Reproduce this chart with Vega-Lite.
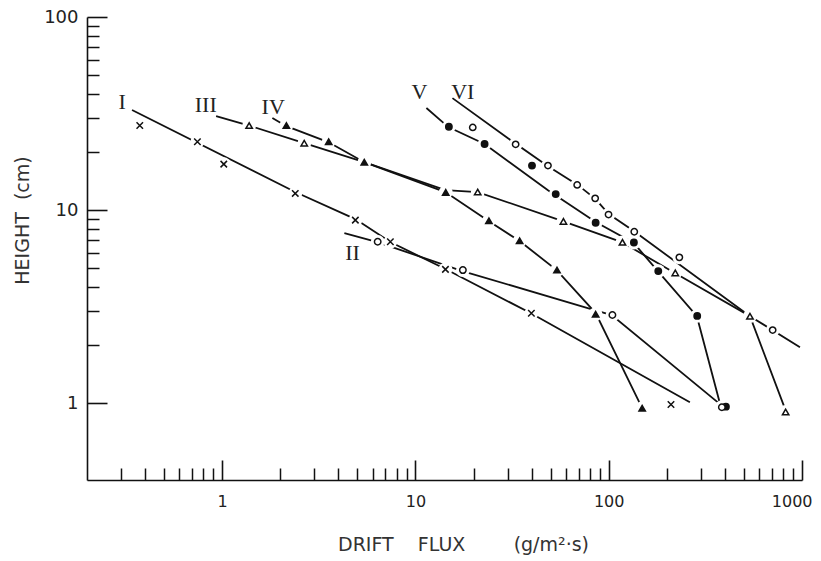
{
  "$schema": "https://vega.github.io/schema/vega-lite/v6.json",
  "width": 715,
  "height": 463,
  "autosize": "none",
  "padding": {"left": 87, "top": 17, "right": 19, "bottom": 81},
  "background": "white",
  "config": {"view": {"stroke": null}, "axis": {"grid": false}},
  "datasets": {
    "pts": [
      {"s": "I", "flux": 0.375, "height": 27.4}, {"s": "I", "flux": 0.745, "height": 22.6}, {"s": "I", "flux": 1.02, "height": 17.3}, {"s": "I", "flux": 2.39, "height": 12.2}, {"s": "I", "flux": 4.89, "height": 8.87}, {"s": "I", "flux": 7.42, "height": 6.85}, {"s": "I", "flux": 14.3, "height": 4.93}, {"s": "I", "flux": 39.8, "height": 2.92}, {"s": "I", "flux": 210, "height": 0.985},
      {"s": "III", "flux": 1.38, "height": 27.4}, {"s": "III", "flux": 2.66, "height": 22.2}, {"s": "III", "flux": 21.0, "height": 12.4}, {"s": "III", "flux": 58.3, "height": 8.74}, {"s": "III", "flux": 117.8, "height": 6.81}, {"s": "III", "flux": 221, "height": 4.73}, {"s": "III", "flux": 538, "height": 2.82}, {"s": "III", "flux": 823, "height": 0.9},
      {"s": "IV", "flux": 2.15, "height": 27.4}, {"s": "IV", "flux": 3.56, "height": 22.6}, {"s": "IV", "flux": 5.44, "height": 17.7}, {"s": "IV", "flux": 14.35, "height": 12.35}, {"s": "IV", "flux": 24.0, "height": 8.8}, {"s": "IV", "flux": 34.6, "height": 6.93}, {"s": "IV", "flux": 54.0, "height": 4.89}, {"s": "IV", "flux": 85.6, "height": 2.89}, {"s": "IV", "flux": 149, "height": 0.942},
      {"s": "V", "flux": 14.9, "height": 27.0}, {"s": "V", "flux": 22.8, "height": 22.0}, {"s": "V", "flux": 40.1, "height": 17.0}, {"s": "V", "flux": 53.2, "height": 12.1}, {"s": "V", "flux": 85.6, "height": 8.6}, {"s": "V", "flux": 135, "height": 6.79}, {"s": "V", "flux": 180.5, "height": 4.83}, {"s": "V", "flux": 287, "height": 2.83}, {"s": "V", "flux": 404, "height": 0.959},
      {"s": "VI", "flux": 19.8, "height": 26.8}, {"s": "VI", "flux": 33.0, "height": 21.9}, {"s": "VI", "flux": 48.5, "height": 17.0}, {"s": "VI", "flux": 68.7, "height": 13.5}, {"s": "VI", "flux": 85.1, "height": 11.5}, {"s": "VI", "flux": 99.8, "height": 9.48}, {"s": "VI", "flux": 135.6, "height": 7.72}, {"s": "VI", "flux": 232, "height": 5.69}, {"s": "VI", "flux": 705, "height": 2.39},
      {"s": "II", "flux": 6.38, "height": 6.85}, {"s": "II", "flux": 17.6, "height": 4.89}, {"s": "II", "flux": 104.5, "height": 2.86}, {"s": "II", "flux": 385, "height": 0.953}
    ],
    "lns": [
      {"s": "I", "o": 1, "flux": 0.342, "height": 33.0}, {"s": "I", "o": 2, "flux": 2.39, "height": 12.4}, {"s": "I", "o": 3, "flux": 4.89, "height": 8.98}, {"s": "I", "o": 4, "flux": 7.42, "height": 6.83}, {"s": "I", "o": 5, "flux": 14.3, "height": 4.95}, {"s": "I", "o": 6, "flux": 39.4, "height": 2.93}, {"s": "I", "o": 7, "flux": 263, "height": 1.01},
      {"s": "II", "o": 1, "flux": 4.29, "height": 7.6}, {"s": "II", "o": 2, "flux": 6.36, "height": 6.83}, {"s": "II", "o": 3, "flux": 17.5, "height": 4.83}, {"s": "II", "o": 4, "flux": 77.9, "height": 3.11}, {"s": "II", "o": 5, "flux": 103.6, "height": 2.86}, {"s": "II", "o": 6, "flux": 367, "height": 1.01},
      {"s": "III", "o": 1, "flux": 0.931, "height": 30.7}, {"s": "III", "o": 2, "flux": 1.38, "height": 27.4}, {"s": "III", "o": 3, "flux": 2.66, "height": 22.2}, {"s": "III", "o": 4, "flux": 5.44, "height": 17.7}, {"s": "III", "o": 5, "flux": 14.3, "height": 12.7}, {"s": "III", "o": 6, "flux": 21.0, "height": 12.4}, {"s": "III", "o": 7, "flux": 57.8, "height": 8.77}, {"s": "III", "o": 8, "flux": 116.8, "height": 6.83}, {"s": "III", "o": 9, "flux": 219.8, "height": 4.72}, {"s": "III", "o": 10, "flux": 538, "height": 2.82}, {"s": "III", "o": 11, "flux": 807, "height": 0.965},
      {"s": "IV", "o": 1, "flux": 1.82, "height": 30.0}, {"s": "IV", "o": 2, "flux": 2.15, "height": 27.2}, {"s": "IV", "o": 3, "flux": 3.54, "height": 22.5}, {"s": "IV", "o": 4, "flux": 5.44, "height": 17.7}, {"s": "IV", "o": 5, "flux": 14.3, "height": 12.4}, {"s": "IV", "o": 6, "flux": 23.9, "height": 8.77}, {"s": "IV", "o": 7, "flux": 34.6, "height": 6.91}, {"s": "IV", "o": 8, "flux": 53.8, "height": 4.89}, {"s": "IV", "o": 9, "flux": 85.6, "height": 2.93}, {"s": "IV", "o": 10, "flux": 144.7, "height": 1.0},
      {"s": "V", "o": 1, "flux": 11.4, "height": 33.8}, {"s": "V", "o": 2, "flux": 14.8, "height": 26.9}, {"s": "V", "o": 3, "flux": 22.8, "height": 22.0}, {"s": "V", "o": 4, "flux": 48.3, "height": 12.7}, {"s": "V", "o": 5, "flux": 85.6, "height": 8.67}, {"s": "V", "o": 6, "flux": 134.8, "height": 6.75}, {"s": "V", "o": 7, "flux": 179.5, "height": 4.83}, {"s": "V", "o": 8, "flux": 285.8, "height": 2.82}, {"s": "V", "o": 9, "flux": 376, "height": 1.0},
      {"s": "VI", "o": 1, "flux": 15.55, "height": 38.0}, {"s": "VI", "o": 2, "flux": 30.0, "height": 23.6}, {"s": "VI", "o": 3, "flux": 48.3, "height": 16.9}, {"s": "VI", "o": 4, "flux": 69.1, "height": 13.5}, {"s": "VI", "o": 5, "flux": 85.6, "height": 11.4}, {"s": "VI", "o": 6, "flux": 100, "height": 9.53}, {"s": "VI", "o": 7, "flux": 134.8, "height": 7.79}, {"s": "VI", "o": 8, "flux": 538, "height": 2.82}, {"s": "VI", "o": 9, "flux": 976, "height": 1.95}
    ],
    "lbl": [
      {"t": "I", "flux": 0.304, "height": 36.4},
      {"t": "II", "flux": 4.73, "height": 5.97},
      {"t": "III", "flux": 0.823, "height": 35.0},
      {"t": "IV", "flux": 1.837, "height": 34.3},
      {"t": "V", "flux": 10.49, "height": 40.7},
      {"t": "VI", "flux": 17.59, "height": 41.0}
    ]
  },
  "resolve": {"axis": {"x": "independent", "y": "independent"}},
  "layer": [
    {
      "data": {"name": "lns"},
      "mark": {"type": "line", "stroke": "#111111", "strokeWidth": 1.8},
      "encoding": {
        "x": {"field": "flux", "type": "quantitative",
          "scale": {"type": "log", "domain": [0.2, 1000], "nice": false},
          "axis": {"orient": "bottom", "values": [1, 10, 100, 1000], "format": "d", "ticks": false,
            "domainColor": "#111111", "domainWidth": 1.6, "labelFont": "DejaVu Sans", "labelFontSize": 16,
            "labelColor": "#222222", "labelPadding": 13, "labelFlush": 4, "labelFlushOffset": 10,
            "title": "DRIFT\u00a0\u00a0\u00a0\u00a0FLUX\u00a0\u00a0\u00a0\u00a0\u00a0\u00a0\u00a0\u00a0(g/m²·s)", "titleFont": "DejaVu Sans", "titleFontSize": 19,
            "titleFontWeight": "normal", "titleColor": "#333333", "titleX": 376, "titleY": 70,
            "titleAlign": "center", "titleBaseline": "alphabetic"}},
        "y": {"field": "height", "type": "quantitative",
          "scale": {"type": "log", "domain": [0.4, 100], "nice": false},
          "axis": {"orient": "left", "values": [1, 10, 100], "format": "d", "ticks": false,
            "domainColor": "#111111", "domainWidth": 1.6, "labelFont": "DejaVu Sans", "labelFontSize": 18,
            "labelColor": "#222222", "labelPadding": 9, "labelFlush": false,
            "title": "HEIGHT\u00a0\u00a0(cm)", "titleFont": "DejaVu Sans", "titleFontSize": 19,
            "titleFontWeight": "normal", "titleColor": "#333333", "titleAngle": 270, "titleX": -59, "titleY": 203,
            "titleAlign": "center", "titleBaseline": "alphabetic"}},
        "detail": {"field": "s"},
        "order": {"field": "o", "type": "quantitative"}
      }
    },
    {
      "data": {"name": "pts"},
      "mark": {"type": "point", "shape": "circle", "filled": true, "fill": "white", "strokeWidth": 0, "size": 190, "opacity": 1},
      "encoding": {
        "x": {"field": "flux", "type": "quantitative",
          "axis": {"orient": "top", "offset": -463, "values": [1, 10, 100, 1000], "labels": false, "domain": false,
            "tickSize": 20, "tickWidth": 1.6, "tickColor": "#111111", "title": null}},
        "y": {"field": "height", "type": "quantitative",
          "axis": {"orient": "right", "offset": -715, "values": [1, 10, 100], "labels": false, "domain": false,
            "tickSize": 20, "tickWidth": 1.6, "tickColor": "#111111", "title": null}}
      }
    },
    {
      "data": {"name": "pts"},
      "mark": {"type": "point", "filled": true, "stroke": "#111111", "strokeWidth": 1.5, "opacity": 1},
      "encoding": {
        "x": {"field": "flux", "type": "quantitative",
          "axis": {"orient": "top", "offset": -463,
            "values": [0.3, 0.4, 0.5, 0.6, 0.7, 0.8, 0.9, 2, 3, 4, 5, 6, 7, 8, 9, 20, 30, 40, 50, 60, 70, 80, 90, 200, 300, 400, 500, 600, 700, 800, 900],
            "labels": false, "domain": false, "tickSize": 12, "tickWidth": 1.5, "tickColor": "#111111", "title": null}},
        "y": {"field": "height", "type": "quantitative",
          "axis": {"orient": "right", "offset": -715,
            "values": [2, 3, 4, 5, 6, 7, 8, 9, 20, 30, 40, 50, 60, 70, 80, 90],
            "labels": false, "domain": false, "tickSize": 12, "tickWidth": 1.5, "tickColor": "#111111", "title": null}},
        "shape": {"field": "s", "type": "nominal", "legend": null,
          "scale": {"domain": ["I", "II", "III", "IV", "V", "VI"],
            "range": ["M-1,-1L1,1M-1,1L1,-1", "circle", "triangle-up", "triangle-up", "circle", "circle"]}},
        "fill": {"field": "s", "type": "nominal", "legend": null,
          "scale": {"domain": ["I", "II", "III", "IV", "V", "VI"],
            "range": ["white", "white", "white", "#111111", "#111111", "white"]}},
        "size": {"field": "s", "type": "nominal", "legend": null,
          "scale": {"domain": ["I", "II", "III", "IV", "V", "VI"], "range": [42, 40, 75, 75, 60, 44]}}
      }
    },
    {
      "data": {"name": "lbl"},
      "mark": {"type": "text", "font": "Liberation Serif", "fontSize": 22, "color": "#222222", "align": "center", "baseline": "middle"},
      "encoding": {
        "x": {"field": "flux", "type": "quantitative", "axis": null},
        "y": {"field": "height", "type": "quantitative", "axis": null},
        "text": {"field": "t"}
      }
    }
  ]
}
